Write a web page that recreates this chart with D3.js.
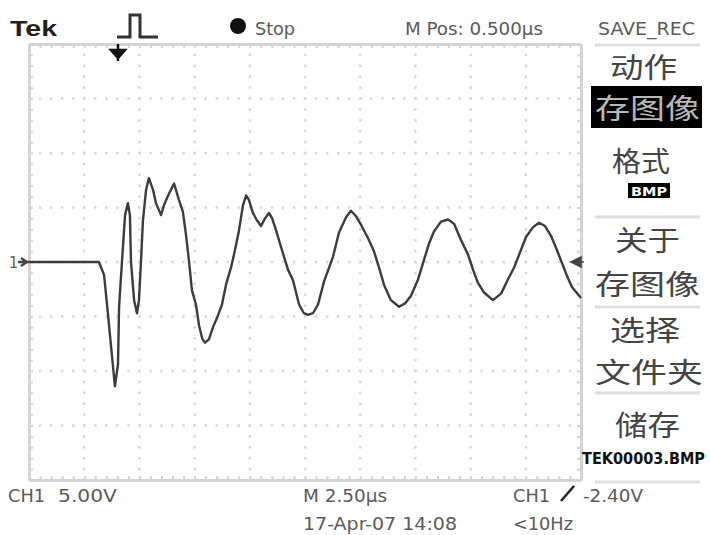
<!DOCTYPE html>
<html>
<head>
<meta charset="utf-8">
<script src="https://cdn.jsdelivr.net/npm/d3@7"></script>
<style>
  html, body { margin: 0; padding: 0; background: #fff; }
  svg { display: block; }
  .lbl { font-family: "DejaVu Sans Condensed", "DejaVu Sans", sans-serif; fill: #5a5a5a; }
  .cjk { font-family: "Noto Sans CJK SC", sans-serif; fill: #444; }
</style>
</head>
<body>
<script>
const width = 710
const height = 535
const plot = ({left: 29, right: 581, top: 44, bottom: 480})

// trace (time in µs from left edge, volts)
const traceTime = [0, 3.17, 3.40, 3.58, 3.71, 3.89, 4.03, 4.08, 4.21, 4.35, 4.48, 4.57, 4.62, 4.76, 4.89,
    4.98, 5.07, 5.16, 5.30, 5.43, 5.62, 5.75, 5.98, 6.11, 6.30, 6.57, 6.79, 6.97, 7.11, 7.25,
    7.38, 7.56, 7.70, 7.84, 7.97, 8.15, 8.33, 8.56, 8.74, 8.92, 9.15, 9.33, 9.51, 9.69, 9.83,
    9.96, 10.14, 10.33, 10.51, 10.69, 10.87, 11.01, 11.19, 11.41, 11.73, 11.96, 12.23, 12.45, 12.64, 12.86,
    13.09, 13.36, 13.77, 14.04, 14.36, 14.58, 14.81, 15.04, 15.35, 15.62, 15.85, 16.08, 16.39, 16.76, 17.03,
    17.30, 17.62, 17.89, 18.12, 18.34, 18.66, 18.98, 19.25, 19.57, 19.88, 20.11, 20.33, 20.61, 21.01, 21.38,
    21.69, 21.97, 22.28, 22.51, 22.83, 23.10, 23.37, 23.64, 23.91, 24.14, 24.37, 24.59, 25.0]
const traceVolt = [0, 0, -1.2, -4.85, -7.6, -11.4, -9.4, -4.1, 0, 4.3, 5.4, 4.3, 0, -3.5, -4.7,
    -3.5, 0, 3.8, 6.6, 7.7, 6.6, 5.4, 4.3, 5.2, 6.1, 7.2, 5.7, 4.6, 2.5, 0,
    -2.6, -3.9, -5.8, -7.0, -7.4, -7.1, -6.0, -4.9, -3.9, -2.1, -0.5, 1.1, 2.9, 5.2, 6.1,
    5.7, 4.5, 3.8, 3.3, 4.0, 4.5, 4.0, 2.9, 1.4, -0.7, -1.7, -3.9, -4.7, -4.85, -4.7,
    -3.9, -1.8, 0.5, 2.7, 4.1, 4.7, 4.2, 3.4, 2.2, 1.0, -0.5, -2.1, -3.5, -4.1, -3.8,
    -3.1, -1.6, 0.2, 1.7, 2.8, 3.7, 3.9, 3.5, 2.0, 0.7, -0.7, -1.9, -2.8, -3.5, -2.9,
    -1.6, -0.5, 1.1, 2.3, 3.2, 3.6, 3.3, 2.4, 1.1, -0.1, -1.3, -2.3, -3.3]

// screen settings
const timeDomain = [0, 25]      // 10 div x 2.50 µs
const voltDomain = [-20, 20]    // 8 div x 5.00 V
const timeDivs = [2.5, 5, 7.5, 10, 12.5, 15, 17.5, 20, 22.5]
const voltDivs = [-15, -10, -5, 0, 5, 10, 15]
const triggerTime = 4.03

const menuTitle = "SAVE_REC"
const menuItems = [["动作"], ["存图像"], ["格式"], ["关于", "存图像"], ["选择", "文件夹"], ["储存"]]
const fileName = "TEK00003.BMP"

const svg = d3.select("body").append("svg").attr("width", width).attr("height", height)

let x = d3.scaleLinear().domain(timeDomain).range([plot.left, plot.right])
let y = d3.scaleLinear().domain(voltDomain).range([plot.bottom, plot.top])

const minorT = d3.range(timeDomain[0], timeDomain[1] + 0.01, 0.5)
const minorV = d3.range(voltDomain[0], voltDomain[1] + 0.01, 1)

// dotted graticule
const dots = svg.append("g").attr("fill", "#d8d8d8")
timeDivs.forEach(t => {
    dots.selectAll(null).data(minorV).join("rect")
        .attr("x", x(t) - 1.2).attr("y", d => y(d) - 1.2)
        .attr("width", 2.5).attr("height", 2.5)
})
voltDivs.forEach(v => {
    dots.selectAll(null).data(minorT).join("rect")
        .attr("x", d => x(d) - 1.2).attr("y", y(v) - 1.2)
        .attr("width", 2.5).attr("height", 2.5)
})

// border with ticks
let borderAxis = (axis, tr) => g => g
    .attr("transform", tr)
    .call(axis.tickFormat("").tickSize(4).tickSizeOuter(0))
    .call(g => g.select(".domain").attr("stroke", "#d4d4d4").attr("stroke-width", 3))
    .call(g => g.selectAll(".tick line").attr("stroke", "#d4d4d4").attr("stroke-width", 2))

svg.append("g").call(borderAxis(d3.axisBottom(x).tickValues(minorT), `translate(0,${plot.top})`))
svg.append("g").call(borderAxis(d3.axisTop(x).tickValues(minorT), `translate(0,${plot.bottom})`))
svg.append("g").call(borderAxis(d3.axisRight(y).tickValues(minorV), `translate(${plot.left},0)`))
svg.append("g").call(borderAxis(d3.axisLeft(y).tickValues(minorV), `translate(${plot.right},0)`))

// trace
const trace = traceTime.map((t, i) => [t, traceVolt[i]])
svg.append("path")
    .datum(trace)
    .attr("fill", "none")
    .attr("stroke", "#3c3c3c")
    .attr("stroke-width", 2.4)
    .attr("stroke-linejoin", "round")
    .attr("d", d3.line().x(d => x(d[0])).y(d => y(d[1])))

// channel marker on the left
svg.append("text").attr("class", "lbl")
    .attr("x", 9).attr("y", y(0) + 6).attr("font-size", 16).text("1")
svg.append("path")
    .attr("d", `M18,${y(0)} H${plot.left} M21,${y(0) - 4} L27,${y(0)} L21,${y(0) + 4}`)
    .attr("stroke", "#444").attr("stroke-width", 2.4).attr("fill", "none")

// trigger level marker on the right
svg.append("path")
    .attr("d", `M${plot.right - 10},${y(0)} L${plot.right},${y(0) - 5} L${plot.right},${y(0) + 5} Z M${plot.right - 10},${y(0)} H${plot.right + 3}`)
    .attr("fill", "#444").attr("stroke", "#444").attr("stroke-width", 1.5)

// trigger position marker on top
const tx = x(triggerTime)
svg.append("path")
    .attr("d", `M${tx},${plot.top} V${plot.top + 17} M${tx - 7},${plot.top + 6} H${tx + 7} L${tx},${plot.top + 14} Z`)
    .attr("fill", "#111").attr("stroke", "#111").attr("stroke-width", 2.5)

// top status line
svg.append("text").attr("x", 10).attr("y", 36)
    .attr("font-family", "Liberation Sans, Arial, sans-serif").attr("font-weight", "bold")
    .attr("font-size", 22).attr("fill", "#222")
    .attr("textLength", 47).attr("lengthAdjust", "spacingAndGlyphs").text("Tek")
svg.append("path")
    .attr("d", "M117,37 H130 V15 H140 V37 H158")
    .attr("fill", "none").attr("stroke", "#333").attr("stroke-width", 3)
svg.append("circle").attr("cx", 238).attr("cy", 26).attr("r", 8).attr("fill", "#111")

let label = (txt, x0, y0, len, size, opts = {}) => svg.append("text")
    .attr("class", "lbl")
    .attr("x", x0).attr("y", y0)
    .attr("font-size", size)
    .attr("font-weight", opts.bold ? "bold" : null)
    .style("fill", opts.fill || null)
    .attr("textLength", len).attr("lengthAdjust", "spacingAndGlyphs")
    .text(txt)

label("Stop", 255, 35, 40, 17)
label("M Pos: 0.500µs", 405, 35, 138, 17)
label(menuTitle, 598, 35, 97, 17)

// bottom status lines
label("CH1", 8, 502, 37, 17)
label("5.00V", 58, 502, 59, 17)
label("M 2.50µs", 303, 502, 84, 17)
label("CH1", 513, 502, 37, 17)
svg.append("path").attr("d", "M561,501 L574,486").attr("stroke", "#222").attr("stroke-width", 2.5)
label("-2.40V", 583, 502, 60, 17)
label("17-Apr-07 14:08", 303, 530, 154, 17)
label("<10Hz", 513, 530, 60, 17)

// right menu
const seps = [45, 217, 307, 393, 482]
svg.append("g").selectAll("line").data(seps).join("line")
    .attr("x1", 595).attr("x2", 700).attr("y1", d => d).attr("y2", d => d)
    .attr("stroke", "#dedede").attr("stroke-width", 3)

svg.append("rect").attr("x", 591).attr("y", 86).attr("width", 111).attr("height", 42).attr("fill", "#000")
svg.append("rect").attr("x", 628).attr("y", 183).attr("width", 42).attr("height", 15).attr("fill", "#000")

const menuPlaces = [
    [{cy: 66, x0: 610, len: 67}],
    [{cy: 107, x0: 595, len: 105, fill: "#b8b8b8"}],
    [{cy: 160, x0: 612, len: 58}],
    [{cy: 239, x0: 615, len: 65}, {cy: 283, x0: 595, len: 105}],
    [{cy: 329, x0: 610, len: 70}, {cy: 371, x0: 595, len: 108}],
    [{cy: 424, x0: 615, len: 65}]
]
menuItems.forEach((lines, i) => {
    lines.forEach((txt, j) => {
        const p = menuPlaces[i][j]
        svg.append("text").attr("class", "cjk")
            .attr("x", p.x0).attr("y", p.cy)
            .attr("dominant-baseline", "central")
            .attr("font-size", 28)
            .style("fill", p.fill || null)
            .attr("textLength", p.len).attr("lengthAdjust", "spacingAndGlyphs")
            .text(txt)
    })
})
label("BMP", 631, 196, 36, 13, {bold: true, fill: "#fff"})
label(fileName, 582, 464, 123, 15, {bold: true, fill: "#111"})
</script>
</body>
</html>
